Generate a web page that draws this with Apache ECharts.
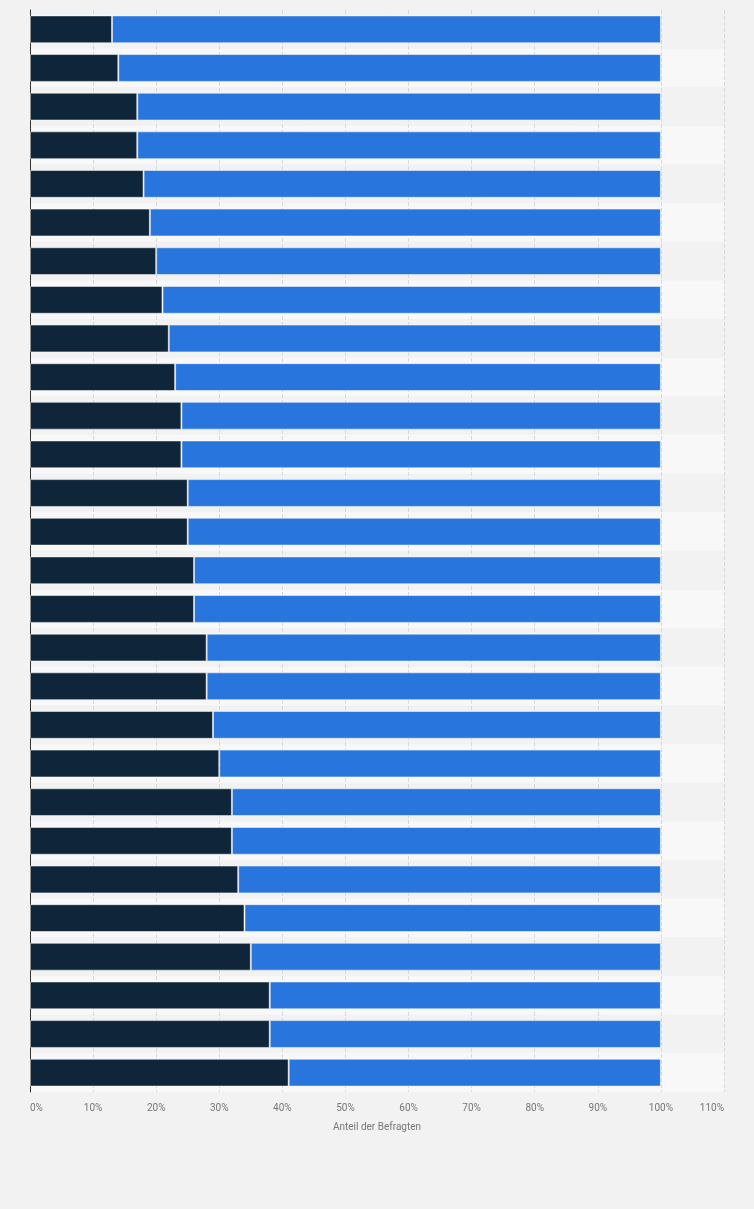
<!DOCTYPE html>
<html>
<head>
<meta charset="utf-8">
<script src="https://cdn.jsdelivr.net/npm/echarts@6/dist/echarts.min.js"></script>
<style>
html,body{margin:0;padding:0;background:#f2f2f2;}
#main{width:754px;height:1209px;}
</style>
</head>
<body>
<div id="main"></div>
<script>
var categories = ["1","2","3","4","5","6","7","8","9","10","11","12","13","14","15","16","17","18","19","20","21","22","23","24","25","26","27","28"];
var darkValues = [13,14,17,17,18,19,20,21,22,23,24,24,25,25,26,26,28,28,29,30,32,32,33,34,35,38,38,41];
var blueValues = [87,86,83,83,82,81,80,79,78,77,76,76,75,75,74,74,72,72,71,70,68,68,67,66,65,62,62,59];
var xTicks = {min:0,max:110,interval:10};

var chart = echarts.init(document.getElementById('main'));
chart.setOption({
  backgroundColor:'#f2f2f2',
  animation:false,
  grid:{left:30,right:30,top:10,bottom:117,containLabel:false},
  xAxis:{
    type:'value',min:xTicks.min,max:xTicks.max,interval:xTicks.interval,
    name:'Anteil der Befragten',nameLocation:'middle',nameGap:30,
    nameTextStyle:{color:'#777',fontSize:10,fontFamily:'Roboto, Arial, sans-serif'},
    axisLine:{show:false},axisTick:{show:false},
    axisLabel:{formatter:'{value}%',color:'#777',fontSize:10,margin:11,fontFamily:'Roboto, Arial, sans-serif',alignMinLabel:'left',alignMaxLabel:'right'},
    splitLine:{show:true,lineStyle:{color:'#d8d8d8',type:'dashed',width:1}}
  },
  yAxis:{
    type:'category',data:categories,inverse:true,
    axisLine:{show:true,lineStyle:{color:'#333',width:1}},
    axisTick:{show:false},axisLabel:{show:false},
    splitArea:{show:true,areaStyle:{color:['#f2f2f2','#f8f8f8']}}
  },
  series:[
    {type:'bar',stack:'a',data:darkValues,barWidth:'72%',
     itemStyle:{color:'#0f2539',borderColor:'rgba(255,255,255,0.5)',borderWidth:1}},
    {type:'bar',stack:'a',data:blueValues,barWidth:'72%',
     itemStyle:{color:'#2876dd',borderColor:'rgba(255,255,255,0.5)',borderWidth:1}}
  ]
});
</script>
</body>
</html>
